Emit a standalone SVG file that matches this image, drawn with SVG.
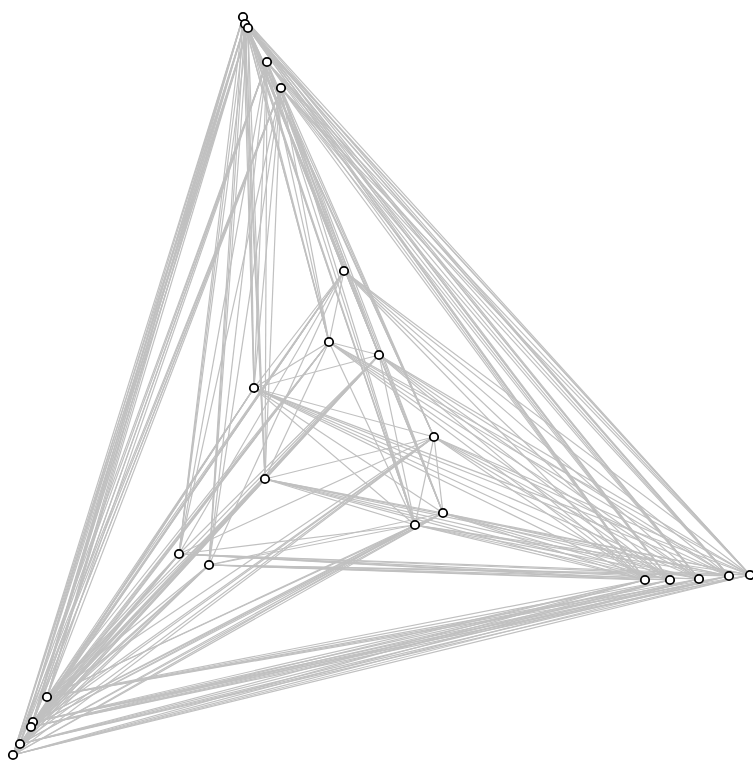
<svg xmlns="http://www.w3.org/2000/svg" width="753" height="762" viewBox="0 0 753 762">
<style>
.e line{stroke:#c0c0c0;stroke-width:1.2;fill:none}
.n circle{fill:#fff;stroke:#000;stroke-width:1.8}
</style>
<rect width="753" height="762" fill="#fff"/>
<g id="edges" class="e">
<!-- top - bottom-left -->
<line x1="243" y1="17" x2="47" y2="697"/><line x1="243" y1="17" x2="33" y2="722"/><line x1="243" y1="17" x2="31" y2="727"/><line x1="243" y1="17" x2="20" y2="744"/><line x1="243" y1="17" x2="13" y2="755"/>
<line x1="245" y1="24" x2="47" y2="697"/><line x1="245" y1="24" x2="33" y2="722"/><line x1="245" y1="24" x2="31" y2="727"/><line x1="245" y1="24" x2="20" y2="744"/><line x1="245" y1="24" x2="13" y2="755"/>
<line x1="248" y1="28" x2="47" y2="697"/><line x1="248" y1="28" x2="33" y2="722"/><line x1="248" y1="28" x2="31" y2="727"/><line x1="248" y1="28" x2="20" y2="744"/><line x1="248" y1="28" x2="13" y2="755"/>
<line x1="267" y1="62" x2="47" y2="697"/><line x1="267" y1="62" x2="33" y2="722"/><line x1="267" y1="62" x2="31" y2="727"/><line x1="267" y1="62" x2="20" y2="744"/><line x1="267" y1="62" x2="13" y2="755"/>
<line x1="281" y1="88" x2="47" y2="697"/><line x1="281" y1="88" x2="33" y2="722"/><line x1="281" y1="88" x2="31" y2="727"/><line x1="281" y1="88" x2="20" y2="744"/><line x1="281" y1="88" x2="13" y2="755"/>
<!-- top - right -->
<line x1="243" y1="17" x2="645" y2="580"/><line x1="243" y1="17" x2="670" y2="580"/><line x1="243" y1="17" x2="699" y2="579"/><line x1="243" y1="17" x2="729" y2="576"/><line x1="243" y1="17" x2="750" y2="575"/>
<line x1="245" y1="24" x2="645" y2="580"/><line x1="245" y1="24" x2="670" y2="580"/><line x1="245" y1="24" x2="699" y2="579"/><line x1="245" y1="24" x2="729" y2="576"/><line x1="245" y1="24" x2="750" y2="575"/>
<line x1="248" y1="28" x2="645" y2="580"/><line x1="248" y1="28" x2="670" y2="580"/><line x1="248" y1="28" x2="699" y2="579"/><line x1="248" y1="28" x2="729" y2="576"/><line x1="248" y1="28" x2="750" y2="575"/>
<line x1="267" y1="62" x2="645" y2="580"/><line x1="267" y1="62" x2="670" y2="580"/><line x1="267" y1="62" x2="699" y2="579"/><line x1="267" y1="62" x2="729" y2="576"/><line x1="267" y1="62" x2="750" y2="575"/>
<line x1="281" y1="88" x2="645" y2="580"/><line x1="281" y1="88" x2="670" y2="580"/><line x1="281" y1="88" x2="699" y2="579"/><line x1="281" y1="88" x2="729" y2="576"/><line x1="281" y1="88" x2="750" y2="575"/>
<!-- bottom-left - right -->
<line x1="47" y1="697" x2="645" y2="580"/><line x1="47" y1="697" x2="670" y2="580"/><line x1="47" y1="697" x2="699" y2="579"/><line x1="47" y1="697" x2="729" y2="576"/><line x1="47" y1="697" x2="750" y2="575"/>
<line x1="33" y1="722" x2="645" y2="580"/><line x1="33" y1="722" x2="670" y2="580"/><line x1="33" y1="722" x2="699" y2="579"/><line x1="33" y1="722" x2="729" y2="576"/><line x1="33" y1="722" x2="750" y2="575"/>
<line x1="31" y1="727" x2="645" y2="580"/><line x1="31" y1="727" x2="670" y2="580"/><line x1="31" y1="727" x2="699" y2="579"/><line x1="31" y1="727" x2="729" y2="576"/><line x1="31" y1="727" x2="750" y2="575"/>
<line x1="20" y1="744" x2="645" y2="580"/><line x1="20" y1="744" x2="670" y2="580"/><line x1="20" y1="744" x2="699" y2="579"/><line x1="20" y1="744" x2="729" y2="576"/><line x1="20" y1="744" x2="750" y2="575"/>
<line x1="13" y1="755" x2="645" y2="580"/><line x1="13" y1="755" x2="670" y2="580"/><line x1="13" y1="755" x2="699" y2="579"/><line x1="13" y1="755" x2="729" y2="576"/><line x1="13" y1="755" x2="750" y2="575"/>
<!-- top - inner -->
<line x1="243" y1="17" x2="344" y2="271"/><line x1="243" y1="17" x2="329" y2="342"/><line x1="243" y1="17" x2="379" y2="355"/><line x1="243" y1="17" x2="254" y2="388"/><line x1="243" y1="17" x2="434" y2="437"/><line x1="243" y1="17" x2="265" y2="479"/><line x1="243" y1="17" x2="443" y2="513"/><line x1="243" y1="17" x2="415" y2="525"/><line x1="243" y1="17" x2="179" y2="554"/><line x1="243" y1="17" x2="209" y2="565"/>
<line x1="245" y1="24" x2="344" y2="271"/><line x1="245" y1="24" x2="329" y2="342"/><line x1="245" y1="24" x2="379" y2="355"/><line x1="245" y1="24" x2="254" y2="388"/><line x1="245" y1="24" x2="434" y2="437"/><line x1="245" y1="24" x2="265" y2="479"/><line x1="245" y1="24" x2="443" y2="513"/><line x1="245" y1="24" x2="415" y2="525"/><line x1="245" y1="24" x2="179" y2="554"/><line x1="245" y1="24" x2="209" y2="565"/>
<line x1="248" y1="28" x2="344" y2="271"/><line x1="248" y1="28" x2="329" y2="342"/><line x1="248" y1="28" x2="379" y2="355"/><line x1="248" y1="28" x2="254" y2="388"/><line x1="248" y1="28" x2="434" y2="437"/><line x1="248" y1="28" x2="265" y2="479"/><line x1="248" y1="28" x2="443" y2="513"/><line x1="248" y1="28" x2="415" y2="525"/><line x1="248" y1="28" x2="179" y2="554"/><line x1="248" y1="28" x2="209" y2="565"/>
<line x1="267" y1="62" x2="344" y2="271"/><line x1="267" y1="62" x2="329" y2="342"/><line x1="267" y1="62" x2="379" y2="355"/><line x1="267" y1="62" x2="254" y2="388"/><line x1="267" y1="62" x2="434" y2="437"/><line x1="267" y1="62" x2="265" y2="479"/><line x1="267" y1="62" x2="443" y2="513"/><line x1="267" y1="62" x2="415" y2="525"/><line x1="267" y1="62" x2="179" y2="554"/><line x1="267" y1="62" x2="209" y2="565"/>
<line x1="281" y1="88" x2="344" y2="271"/><line x1="281" y1="88" x2="329" y2="342"/><line x1="281" y1="88" x2="379" y2="355"/><line x1="281" y1="88" x2="254" y2="388"/><line x1="281" y1="88" x2="434" y2="437"/><line x1="281" y1="88" x2="265" y2="479"/><line x1="281" y1="88" x2="443" y2="513"/><line x1="281" y1="88" x2="415" y2="525"/><line x1="281" y1="88" x2="179" y2="554"/><line x1="281" y1="88" x2="209" y2="565"/>
<!-- bottom-left - inner -->
<line x1="47" y1="697" x2="344" y2="271"/><line x1="47" y1="697" x2="329" y2="342"/><line x1="47" y1="697" x2="379" y2="355"/><line x1="47" y1="697" x2="254" y2="388"/><line x1="47" y1="697" x2="434" y2="437"/><line x1="47" y1="697" x2="265" y2="479"/><line x1="47" y1="697" x2="443" y2="513"/><line x1="47" y1="697" x2="415" y2="525"/><line x1="47" y1="697" x2="179" y2="554"/><line x1="47" y1="697" x2="209" y2="565"/>
<line x1="33" y1="722" x2="344" y2="271"/><line x1="33" y1="722" x2="329" y2="342"/><line x1="33" y1="722" x2="379" y2="355"/><line x1="33" y1="722" x2="254" y2="388"/><line x1="33" y1="722" x2="434" y2="437"/><line x1="33" y1="722" x2="265" y2="479"/><line x1="33" y1="722" x2="443" y2="513"/><line x1="33" y1="722" x2="415" y2="525"/><line x1="33" y1="722" x2="179" y2="554"/><line x1="33" y1="722" x2="209" y2="565"/>
<line x1="31" y1="727" x2="344" y2="271"/><line x1="31" y1="727" x2="329" y2="342"/><line x1="31" y1="727" x2="379" y2="355"/><line x1="31" y1="727" x2="254" y2="388"/><line x1="31" y1="727" x2="434" y2="437"/><line x1="31" y1="727" x2="265" y2="479"/><line x1="31" y1="727" x2="443" y2="513"/><line x1="31" y1="727" x2="415" y2="525"/><line x1="31" y1="727" x2="179" y2="554"/><line x1="31" y1="727" x2="209" y2="565"/>
<line x1="20" y1="744" x2="344" y2="271"/><line x1="20" y1="744" x2="329" y2="342"/><line x1="20" y1="744" x2="379" y2="355"/><line x1="20" y1="744" x2="254" y2="388"/><line x1="20" y1="744" x2="434" y2="437"/><line x1="20" y1="744" x2="265" y2="479"/><line x1="20" y1="744" x2="443" y2="513"/><line x1="20" y1="744" x2="415" y2="525"/><line x1="20" y1="744" x2="179" y2="554"/><line x1="20" y1="744" x2="209" y2="565"/>
<line x1="13" y1="755" x2="344" y2="271"/><line x1="13" y1="755" x2="329" y2="342"/><line x1="13" y1="755" x2="379" y2="355"/><line x1="13" y1="755" x2="254" y2="388"/><line x1="13" y1="755" x2="434" y2="437"/><line x1="13" y1="755" x2="265" y2="479"/><line x1="13" y1="755" x2="443" y2="513"/><line x1="13" y1="755" x2="415" y2="525"/><line x1="13" y1="755" x2="179" y2="554"/><line x1="13" y1="755" x2="209" y2="565"/>
<!-- right - inner -->
<line x1="645" y1="580" x2="344" y2="271"/><line x1="645" y1="580" x2="329" y2="342"/><line x1="645" y1="580" x2="379" y2="355"/><line x1="645" y1="580" x2="254" y2="388"/><line x1="645" y1="580" x2="434" y2="437"/><line x1="645" y1="580" x2="265" y2="479"/><line x1="645" y1="580" x2="443" y2="513"/><line x1="645" y1="580" x2="415" y2="525"/><line x1="645" y1="580" x2="179" y2="554"/><line x1="645" y1="580" x2="209" y2="565"/>
<line x1="670" y1="580" x2="344" y2="271"/><line x1="670" y1="580" x2="329" y2="342"/><line x1="670" y1="580" x2="379" y2="355"/><line x1="670" y1="580" x2="254" y2="388"/><line x1="670" y1="580" x2="434" y2="437"/><line x1="670" y1="580" x2="265" y2="479"/><line x1="670" y1="580" x2="443" y2="513"/><line x1="670" y1="580" x2="415" y2="525"/><line x1="670" y1="580" x2="179" y2="554"/><line x1="670" y1="580" x2="209" y2="565"/>
<line x1="699" y1="579" x2="344" y2="271"/><line x1="699" y1="579" x2="329" y2="342"/><line x1="699" y1="579" x2="379" y2="355"/><line x1="699" y1="579" x2="254" y2="388"/><line x1="699" y1="579" x2="434" y2="437"/><line x1="699" y1="579" x2="265" y2="479"/><line x1="699" y1="579" x2="443" y2="513"/><line x1="699" y1="579" x2="415" y2="525"/><line x1="699" y1="579" x2="179" y2="554"/><line x1="699" y1="579" x2="209" y2="565"/>
<line x1="729" y1="576" x2="344" y2="271"/><line x1="729" y1="576" x2="329" y2="342"/><line x1="729" y1="576" x2="379" y2="355"/><line x1="729" y1="576" x2="254" y2="388"/><line x1="729" y1="576" x2="434" y2="437"/><line x1="729" y1="576" x2="265" y2="479"/><line x1="729" y1="576" x2="443" y2="513"/><line x1="729" y1="576" x2="415" y2="525"/><line x1="729" y1="576" x2="179" y2="554"/><line x1="729" y1="576" x2="209" y2="565"/>
<line x1="750" y1="575" x2="344" y2="271"/><line x1="750" y1="575" x2="329" y2="342"/><line x1="750" y1="575" x2="379" y2="355"/><line x1="750" y1="575" x2="254" y2="388"/><line x1="750" y1="575" x2="434" y2="437"/><line x1="750" y1="575" x2="265" y2="479"/><line x1="750" y1="575" x2="443" y2="513"/><line x1="750" y1="575" x2="415" y2="525"/><line x1="750" y1="575" x2="179" y2="554"/><line x1="750" y1="575" x2="209" y2="565"/>
<!-- inner - inner -->
<line x1="344" y1="271" x2="329" y2="342"/><line x1="344" y1="271" x2="254" y2="388"/><line x1="344" y1="271" x2="179" y2="554"/><line x1="344" y1="271" x2="209" y2="565"/>
<line x1="329" y1="342" x2="379" y2="355"/><line x1="329" y1="342" x2="254" y2="388"/><line x1="329" y1="342" x2="265" y2="479"/><line x1="329" y1="342" x2="415" y2="525"/>
<line x1="379" y1="355" x2="254" y2="388"/><line x1="379" y1="355" x2="265" y2="479"/><line x1="379" y1="355" x2="179" y2="554"/><line x1="379" y1="355" x2="415" y2="525"/>
<line x1="254" y1="388" x2="434" y2="437"/><line x1="254" y1="388" x2="443" y2="513"/><line x1="254" y1="388" x2="415" y2="525"/>
<line x1="434" y1="437" x2="265" y2="479"/><line x1="434" y1="437" x2="443" y2="513"/><line x1="434" y1="437" x2="415" y2="525"/><line x1="434" y1="437" x2="179" y2="554"/>
<line x1="265" y1="479" x2="443" y2="513"/><line x1="265" y1="479" x2="415" y2="525"/>
<line x1="443" y1="513" x2="415" y2="525"/><line x1="179" y1="554" x2="415" y2="525"/><line x1="209" y1="565" x2="443" y2="513"/><line x1="209" y1="565" x2="415" y2="525"/>
</g>
<g class="n">
<g id="t1"><circle cx="243" cy="17" r="4.2"/></g>
<g id="t2"><circle cx="245" cy="24" r="4.2"/></g>
<g id="t3"><circle cx="248" cy="28" r="4.2"/></g>
<g id="t4"><circle cx="267" cy="62" r="4.2"/></g>
<g id="t5"><circle cx="281" cy="88" r="4.2"/></g>
<g id="b1"><circle cx="47" cy="697" r="4.2"/></g>
<g id="b2"><circle cx="33" cy="722" r="4.2"/></g>
<g id="b3"><circle cx="31" cy="727" r="4.2"/></g>
<g id="b4"><circle cx="20" cy="744" r="4.2"/></g>
<g id="b5"><circle cx="13" cy="755" r="4.2"/></g>
<g id="r1"><circle cx="645" cy="580" r="4.2"/></g>
<g id="r2"><circle cx="670" cy="580" r="4.2"/></g>
<g id="r3"><circle cx="699" cy="579" r="4.2"/></g>
<g id="r4"><circle cx="729" cy="576" r="4.2"/></g>
<g id="r5"><circle cx="750" cy="575" r="4.2"/></g>
<g id="i1"><circle cx="344" cy="271" r="4.2"/></g>
<g id="i2"><circle cx="329" cy="342" r="4.2"/></g>
<g id="i3"><circle cx="379" cy="355" r="4.2"/></g>
<g id="i4"><circle cx="254" cy="388" r="4.2"/></g>
<g id="i5"><circle cx="434" cy="437" r="4.2"/></g>
<g id="i6"><circle cx="265" cy="479" r="4.2"/></g>
<g id="i7"><circle cx="443" cy="513" r="4.2"/></g>
<g id="i8"><circle cx="415" cy="525" r="4.2"/></g>
<g id="i9"><circle cx="179" cy="554" r="4.2"/></g>
<g id="i10"><circle cx="209" cy="565" r="4.2"/></g>
</g>
</svg>
